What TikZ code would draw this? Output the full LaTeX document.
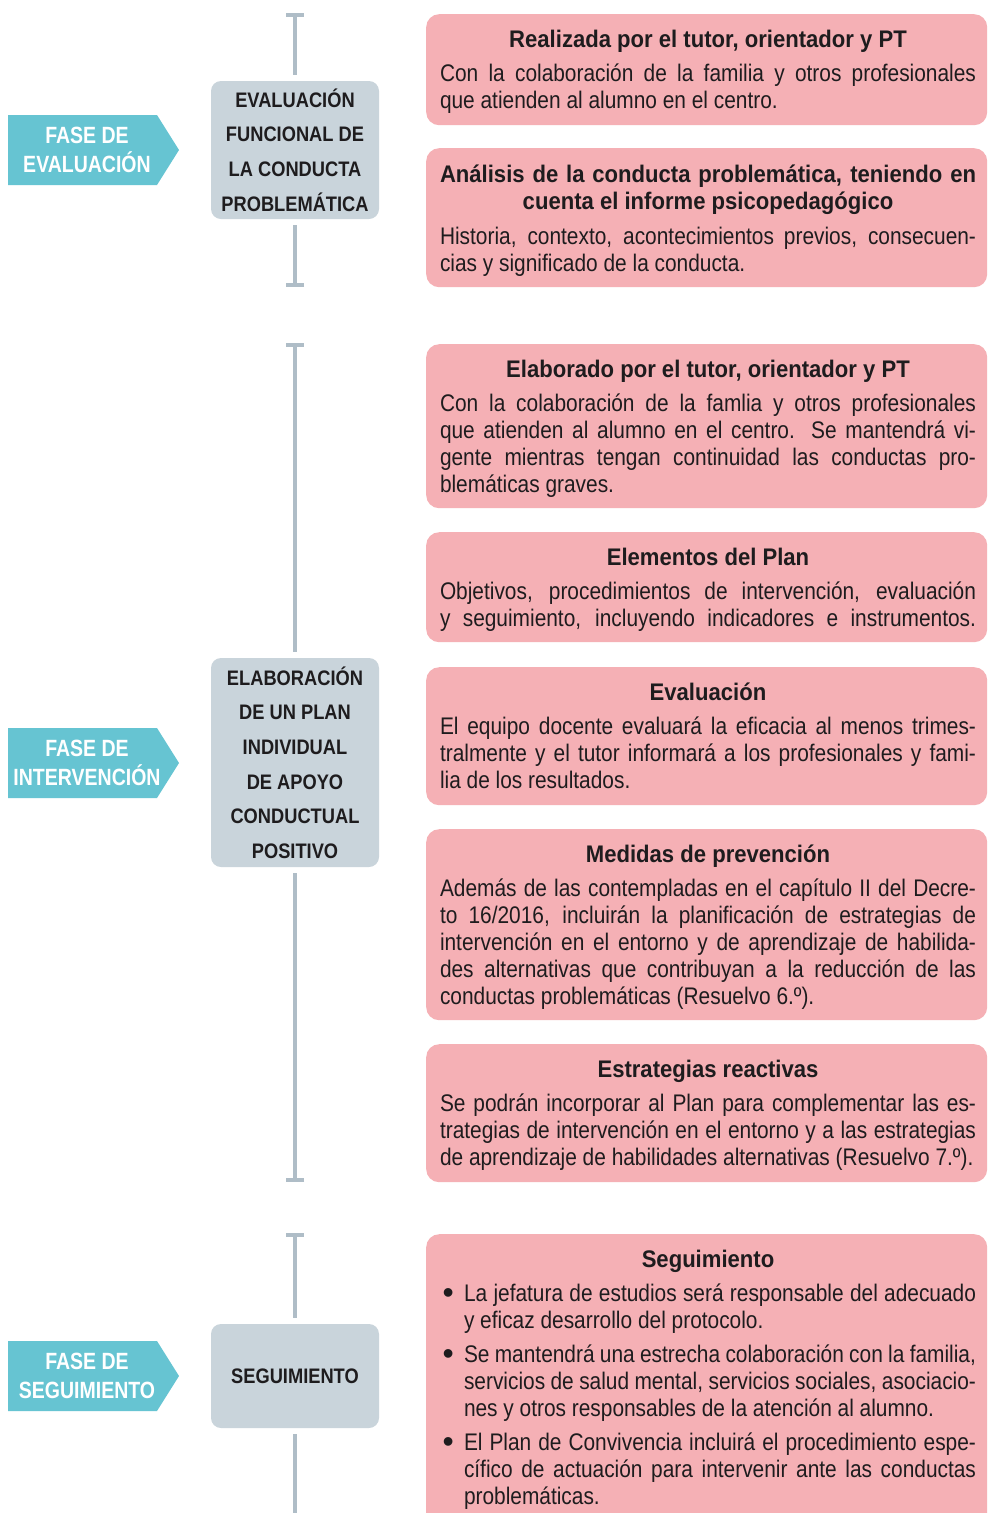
\documentclass[tikz,border=0pt]{standalone}
\usepackage{fontspec}
\setmainfont{Liberation Sans}[FakeStretch=0.87]
\newfontfamily\phasefont{Liberation Sans}[FakeStretch=0.83]
\newfontfamily\headfont{Liberation Sans}[FakeStretch=0.92]
\newfontfamily\grayfont{Liberation Sans}[FakeStretch=0.87]
\newfontfamily\bulletfont{Liberation Sans}
\usetikzlibrary{arrows.meta}
\definecolor{tealc}{RGB}{102,196,210}
\definecolor{grayc}{RGB}{201,212,219}
\definecolor{linec}{RGB}{175,189,199}
\definecolor{pinkc}{RGB}{245,176,181}
\definecolor{inkc}{RGB}{30,28,30}
\lineskiplimit=-50pt
\newcommand{\hd}{\headfont\bfseries}
\newcommand{\jl}[1]{\makebox[536pt][s]{#1}}
\newcommand{\lft}[1]{\makebox[536pt][l]{#1}}
\newcommand{\ctr}[1]{\makebox[536pt][c]{\rule{0pt}{22pt}#1}}
\newcommand{\bjl}[1]{\makebox[24pt][l]{}\makebox[512pt][s]{#1}}
\newcommand{\blft}[1]{\makebox[24pt][l]{}\makebox[512pt][l]{#1}}
\newcommand{\bdot}{\makebox[24pt][l]{\hspace{2.5pt}\raisebox{-2.5pt}{\bulletfont\fontsize{32}{32}\selectfont •}}}
\newcommand{\bfirst}[1]{\bdot\makebox[512pt][s]{#1}}
\tikzset{
  phasebox/.style={fill=tealc, draw=none},
  phasetext/.style={text=white, align=center, inner sep=0pt,
    font=\phasefont\bfseries\fontsize{23.5}{29}\selectfont},
  graybox/.style={fill=grayc, draw=none, rounded corners=10pt, minimum width=168pt,
    align=center, text=inkc, inner sep=0pt,
    font=\grayfont\bfseries\fontsize{21}{34.6}\selectfont},
  pinkbox/.style={fill=pinkc, draw=none, rounded corners=13pt, minimum width=561pt,
    anchor=north west, inner sep=0pt},
  txt/.style={anchor=north, inner sep=0pt, align=left, text=inkc,
    font=\fontsize{24}{27}\selectfont},
  vline/.style={draw=linec, line width=4pt},
}
\begin{document}
\begin{tikzpicture}[x=1pt,y=-1pt]
\useasboundingbox (0,0) rectangle (988,1513);
\fill[white] (0,0) rectangle (988,1513);
\clip (0,0) rectangle (988,1513);

% phase arrows
\fill[phasebox] (8,115) -- (157,115) -- (179,150) -- (157,185) -- (8,185) -- cycle;
\node[phasetext] (f1) at (87,150) {FASE DE\\EVALUACIÓN};
\fill[phasebox] (8,728) -- (157,728) -- (179,763) -- (157,798) -- (8,798) -- cycle;
\node[phasetext] (f2) at (87,763) {FASE DE\\INTERVENCIÓN};
\fill[phasebox] (8,1341) -- (157,1341) -- (179,1376) -- (157,1411) -- (8,1411) -- cycle;
\node[phasetext] (f3) at (87,1376) {FASE DE\\SEGUIMIENTO};

% gray boxes
\node[graybox, minimum height=138pt] (g1) at (295,150) {EVALUACIÓN\\FUNCIONAL DE\\LA CONDUCTA\\PROBLEMÁTICA};
\node[graybox, minimum height=209pt] (g2) at (295,762.5) {ELABORACIÓN\\DE UN PLAN\\INDIVIDUAL\\DE APOYO\\CONDUCTUAL\\POSITIVO};
\node[graybox, minimum height=104pt] (g3) at (295,1376) {SEGUIMIENTO};

% vertical lines
\coordinate (e1a) at (295,13);
\coordinate (e1b) at (295,287);
\coordinate (e2a) at (295,343);
\coordinate (e2b) at (295,1182);
\coordinate (e3a) at (295,1233);
\coordinate (e3b) at (295,1530);
\draw[vline, shorten <=6pt, -{Bar[width=18pt]}] (g1.north) -- (e1a);
\draw[vline, shorten <=6pt, -{Bar[width=18pt]}] (g1.south) -- (e1b);
\draw[vline, shorten <=6pt, -{Bar[width=18pt]}] (g2.north) -- (e2a);
\draw[vline, shorten <=6pt, -{Bar[width=18pt]}] (g2.south) -- (e2b);
\draw[vline, shorten <=6pt, -{Bar[width=18pt]}] (g3.north) -- (e3a);
\draw[vline, shorten <=6pt] (g3.south) -- (e3b);

% pink boxes
\node[pinkbox, minimum height=111pt] (p1) at (426,14) {};
\node[pinkbox, minimum height=139pt] (p2) at (426,148) {};
\node[pinkbox, minimum height=164pt] (p3) at (426,344) {};
\node[pinkbox, minimum height=110pt] (p4) at (426,532) {};
\node[pinkbox, minimum height=138pt] (p5) at (426,667) {};
\node[pinkbox, minimum height=191pt] (p6) at (426,829) {};
\node[pinkbox, minimum height=138pt] (p7) at (426,1044) {};
\node[pinkbox, minimum height=300pt] (p8) at (426,1234) {};

% texts
\node[txt] (t1) at (708,25) {\ctr{\hd Realizada por el tutor, orientador y PT}\\[7pt]
\jl{Con la colaboración de la familia y otros profesionales}\\
\lft{que atienden al alumno en el centro.}};

\node[txt] (t2) at (708,160) {\makebox[536pt][s]{\rule{0pt}{22pt}\hd Análisis de la conducta problemática, teniendo en}\\
\ctr{\hd cuenta el informe psicopedagógico}\\[8pt]
\jl{Historia, contexto, acontecimientos previos, consecuen-}\\
\lft{cias y significado de la conducta.}};

\node[txt] (t3) at (708,355) {\ctr{\hd Elaborado por el tutor, orientador y PT}\\[7pt]
\jl{Con la colaboración de la famlia y otros profesionales}\\
\jl{que atienden al alumno en el centro. Se mantendrá vi-}\\
\jl{gente mientras tengan continuidad las conductas pro-}\\
\lft{blemáticas graves.}};

\node[txt] (t4) at (708,543) {\ctr{\hd Elementos del Plan}\\[7pt]
\jl{Objetivos, procedimientos de intervención, evaluación}\\
\jl{y seguimiento, incluyendo indicadores e instrumentos.}};

\node[txt] (t5) at (708,678) {\ctr{\hd Evaluación}\\[7pt]
\jl{El equipo docente evaluará la eficacia al menos trimes-}\\
\jl{tralmente y el tutor informará a los profesionales y fami-}\\
\lft{lia de los resultados.}};

\node[txt] (t6) at (708,840) {\ctr{\hd Medidas de prevención}\\[7pt]
\jl{Además de las contempladas en el capítulo II del Decre-}\\
\jl{to 16/2016, incluirán la planificación de estrategias de}\\
\jl{intervención en el entorno y de aprendizaje de habilida-}\\
\jl{des alternativas que contribuyan a la reducción de las}\\
\lft{conductas problemáticas (Resuelvo 6.º).}};

\node[txt] (t7) at (708,1055) {\ctr{\hd Estrategias reactivas}\\[7pt]
\jl{Se podrán incorporar al Plan para complementar las es-}\\
\jl{trategias de intervención en el entorno y a las estrategias}\\
\lft{de aprendizaje de habilidades alternativas (Resuelvo 7.º).}};

\node[txt] (t8) at (708,1245) {\ctr{\hd Seguimiento}\\[7pt]
\bfirst{La jefatura de estudios será responsable del adecuado}\\
\blft{y eficaz desarrollo del protocolo.}\\[7pt]
\bfirst{Se mantendrá una estrecha colaboración con la familia,}\\
\bjl{servicios de salud mental, servicios sociales, asociacio-}\\
\blft{nes y otros responsables de la atención al alumno.}\\[7pt]
\bfirst{El Plan de Convivencia incluirá el procedimiento espe-}\\
\bjl{cífico de actuación para intervenir ante las conductas}\\
\blft{problemáticas.}};
\end{tikzpicture}
\end{document}
